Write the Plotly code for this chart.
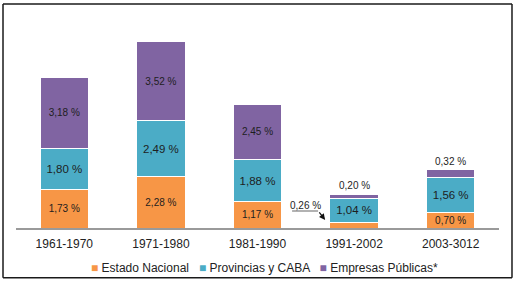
import plotly.graph_objects as go

periods = ["1961-1970", "1971-1980", "1981-1990", "1991-2002", "2003-3012"]
estado_nacional = [1.73, 2.28, 1.17, 0.26, 0.70]
provincias_caba = [1.80, 2.49, 1.88, 1.04, 1.56]
empresas_publicas = [3.18, 3.52, 2.45, 0.20, 0.32]
series_names = ["Estado Nacional", "Provincias y CABA", "Empresas Públicas*"]
colors = ["#F79646", "#4BACC6", "#8064A2"]
small_cut = 0.5

NARROW = "Liberation Sans Narrow, Arial Narrow, Liberation Sans, sans-serif"
REG = "Liberation Sans, Arial, sans-serif"


def fmt(v):
    return f"{v:.2f} %".replace(".", ",")


fig = go.Figure()
sizes = [10, 11.5, 10]
for name, vals, col, fs in zip(series_names, [estado_nacional, provincias_caba, empresas_publicas], colors, sizes):
    fig.add_trace(go.Bar(
        x=periods, y=vals, name=name,
        marker=dict(color=col, line=dict(color="white", width=1)),
        text=[fmt(v) if v >= small_cut else "" for v in vals],
        textposition="inside", insidetextanchor="middle",
        textfont=dict(family=NARROW, size=fs, color="#1e1e1e"),
        constraintext="none",
        showlegend=False,
        hoverinfo="skip",
    ))

totals = [a + b + c for a, b, c in zip(estado_nacional, provincias_caba, empresas_publicas)]
annotations = []
for i, (v, t) in enumerate(zip(empresas_publicas, totals)):
    if v < small_cut:
        annotations.append(dict(x=periods[i], y=t, text=fmt(v), showarrow=False,
                                yanchor="bottom", yshift=1,
                                font=dict(family=NARROW, size=10, color="#1e1e1e")))

for i, v in enumerate(estado_nacional):
    if v < small_cut:
        annotations.append(dict(x=i - 0.507, y=1.02, xref="x", yref="y", text=fmt(v),
                                showarrow=False,
                                font=dict(family=NARROW, size=10, color="#1e1e1e")))
        annotations.append(dict(x=i - 0.30, y=0.36, xref="x", yref="y", text="",
                                showarrow=True, ax=-7, ay=-9, axref="pixel", ayref="pixel",
                                arrowhead=2, arrowsize=1, arrowwidth=1.2, arrowcolor="#111111",
                                standoff=0))

leg = "   ".join(
    f"<span style='color:{c}'>■</span> {n}" for n, c in zip(series_names, colors)
)
annotations.append(dict(x=0.5155, y=-0.188, xref="paper", yref="paper", text=leg,
                        showarrow=False, xanchor="center", yanchor="middle",
                        font=dict(family=REG, size=12, color="#222222")))

bx0, bx1, by0, by1 = -0.0269, 1.0269, -0.234, 1.0516
border = dict(color="#1a1a1a", width=1.5)
shapes = [
    dict(type="line", xref="paper", yref="paper", x0=bx0, x1=bx1, y0=by1, y1=by1, line=border),
    dict(type="line", xref="paper", yref="paper", x0=bx0, x1=bx1, y0=by0, y1=by0, line=border),
    dict(type="line", xref="paper", yref="paper", x0=bx0, x1=bx0, y0=by0, y1=by1, line=border),
    dict(type="line", xref="paper", yref="paper", x0=bx1, x1=bx1, y0=by0, y1=by1, line=border),
    dict(type="line", xref="x", yref="y", x0=3 - 0.642, x1=3 - 0.373, y0=0.756, y1=0.756,
         line=dict(color="#999999", width=1.5)),
]

fig.update_layout(
    width=516, height=283,
    margin=dict(l=16, r=17, t=15, b=55),
    barmode="stack", bargap=0.5,
    separators=",.",
    paper_bgcolor="white", plot_bgcolor="white",
    xaxis=dict(showline=True, linecolor="#9a9a9a", linewidth=1.5, showgrid=False,
               ticks="outside", ticklen=4, tickcolor="rgba(0,0,0,0)",
               tickfont=dict(family=REG, size=12, color="#222222"), fixedrange=True),
    yaxis=dict(range=[0, 9.47], visible=False, showgrid=False, fixedrange=True),
    annotations=annotations,
    shapes=shapes,
)

fig.write_html("out.html", config={"displayModeBar": False},
               post_script="document.body.style.margin='0';document.body.style.overflow='hidden';")
